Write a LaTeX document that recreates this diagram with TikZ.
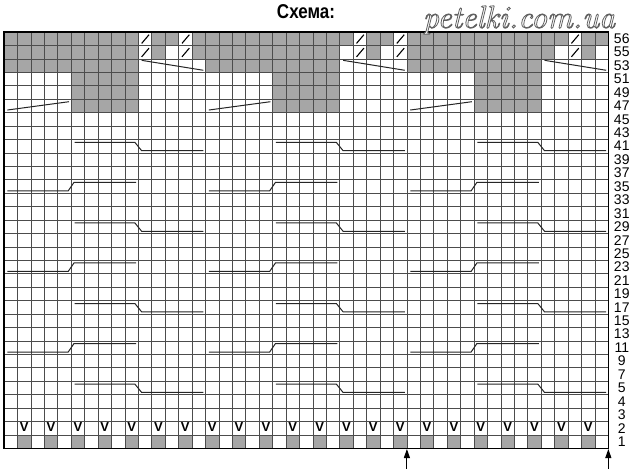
\documentclass[tikz,border=0pt]{standalone}
\usepackage{fontspec}
\setsansfont{Liberation Sans}
\newfontfamily\titlefont[FakeStretch=0.85]{Liberation Sans}
\usetikzlibrary{arrows.meta}
\newcommand{\outlinetext}[1]{{\color{white}\special{pdf:literal direct 2 Tr 0.38 G 0.8 w}#1\special{pdf:literal direct 0 Tr}}}
\tikzstyle{gridline} = [black!70, line width=0.7pt]
\tikzstyle{border} = [black, line width=1.3pt]
\tikzstyle{graycell} = [fill=black!35]
\tikzstyle{cable} = [black!85, line width=1pt]
\tikzstyle{slash} = [black, line width=1.1pt]
\tikzstyle{rowlabel} = [font=\sffamily\fontsize{14}{14}\selectfont, inner sep=0pt]
\tikzstyle{vmark} = [font=\sffamily\bfseries\fontsize{13}{13}\selectfont, inner sep=0pt]
\tikzstyle{rapport} = [line width=1pt, -{Triangle[width=6pt,length=9pt]}]
\tikzstyle{markfont} = [font=\itshape\fontsize{32}{32}\selectfont, inner sep=0pt]

\begin{document}
\begin{tikzpicture}[x=1pt, y=-1pt]
            \useasboundingbox (0,0) rectangle (630,469);
            % Title
            \node (title) at (306,12) {\titlefont\bfseries\fontsize{20}{20}\selectfont Схема:};

            % Chart (one unit = one stitch)
            \begin{scope}[shift={(4,32)}, x=13.43pt, y=-13.43pt]
                % Gray cells
                \foreach \a in {0,15,30} {
                    \fill[graycell] (\a,0) rectangle ++(10,3);
                    \fill[graycell] (\a+5,3) rectangle ++(5,3);
                }
                \foreach \i/\j in {12/1,13/1,15/1,26/1,28/1,29/1,41/1,42/1,44/1,45/1,12/2,15/2,28/2,41/2,44/2}
                    \fill[graycell] (\i-1,\j-1) rectangle ++(1,1);
                \foreach \i in {2,4,...,44} {
                    \fill[graycell] (\i-1,30) rectangle ++(1,1);
                    \node[vmark] (v\i) at (\i-0.5,29.45) {V};
                }

                % Grid
                \foreach \i in {0,...,45} \draw[gridline] (\i,0) -- (\i,31);
                \foreach \j in {0,...,31} \draw[gridline] (0,\j) -- (45,\j);
                \draw[border] (0,0) rectangle (45,31);

                % Slashes
                \foreach \i/\j in {11/1,14/1,11/2,14/2,27/1,30/1,27/2,30/2,43/1,43/2}
                    \draw[slash] (\i-0.75,\j-0.15) -- (\i-0.2,\j-0.8);

                % Lines
                \foreach \a in {0,15,30} {
                    \draw[cable] (\a+10.25,2.11) -- (\a+14.84,2.85);
                    \draw[cable] (\a+0.25,5.81) -- (\a+4.84,5.19);
                    \foreach \y in {8,14,20,26}
                        \draw[cable] (\a+5.25,\y+0.22) -- (\a+9.75,\y+0.22) -- (\a+10.25,\y+0.84) -- (\a+14.84,\y+0.84);
                    \foreach \y in {11,17,23}
                        \draw[cable] (\a+0.25,\y+0.83) -- (\a+4.78,\y+0.83) -- (\a+5.21,\y+0.2) -- (\a+9.83,\y+0.2);
                }

                % Row numbers
                \node[rowlabel] (row56) at (46,0.5) {56};
                \foreach \r in {2,...,27} {
                    \pgfmathtruncatemacro\lab{59-2*\r}
                    \node[rowlabel] (row\lab) at (46,\r-0.5) {\lab};
                }
                \foreach \r in {28,...,31} {
                    \pgfmathtruncatemacro\lab{32-\r}
                    \node[rowlabel] (row\lab) at (46,\r-0.5) {\lab};
                }

                % Repeat arrows
                \coordinate (repAfoot) at (30,32.6);
                \coordinate (repAhead) at (30,31.05);
                \coordinate (repBfoot) at (45,32.6);
                \coordinate (repBhead) at (45,31.05);
                \draw[rapport] (repAfoot) -- (repAhead);
                \draw[rapport] (repBfoot) -- (repBhead);
            \end{scope}

            % Watermark
            \node[markfont] (mark) at (519,20) {\outlinetext{petelki.com.ua}};
        \end{tikzpicture}
\end{document}
